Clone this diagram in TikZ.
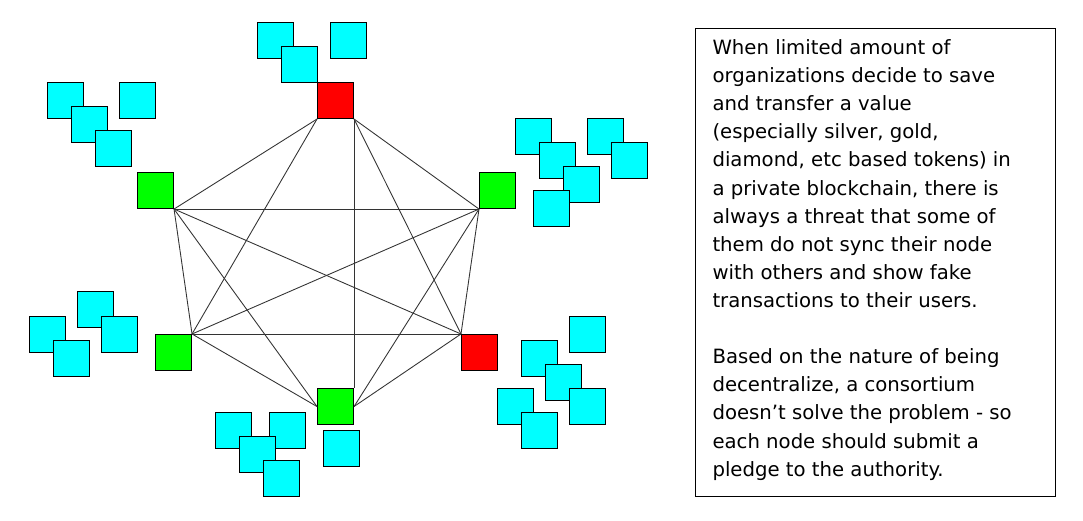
\documentclass[tikz,border=0pt]{standalone}
\usepackage{fontspec}
\setmainfont{DejaVu Sans}
\definecolor{usercyan}{RGB}{0,255,255}
\definecolor{nodegreen}{RGB}{0,255,0}
\begin{document}
\begin{tikzpicture}[x=0.02cm, y=-0.02cm, line width=0.6pt,
  sq/.style = {draw, rectangle, minimum size=0.72cm, inner sep=0pt, anchor=north west},
  peer/.style = {sq, fill=red},
  org/.style = {sq, fill=nodegreen},
  user/.style = {sq, fill=usercyan},
  link/.style = {line width=0.5pt, draw=black!80}]
	\useasboundingbox (0,0) rectangle (1083,521);
	% user squares
	\foreach \x/\y in {257/22, 330/22, 281/46,
	                   47/82, 119/82, 71/106, 95/130,
	                   515/118, 587/118, 539/142, 611/142, 563/166, 533/190,
	                   77/291, 29/316, 101/316, 53/340,
	                   569/316, 521/340, 545/364, 497/388, 569/388, 521/412,
	                   215/412, 269/412, 239/436, 263/460, 323/430}
		\node[user] at (\x,\y) {};
	
	% nodes of the network
	\node[peer] (top) at (317,82) {};
	\node[org] (left) at (137,172) {};
	\node[org] (right) at (479,172) {};
	\node[org] (lowleft) at (155,334) {};
	\node[peer] (lowright) at (461,334) {};
	\node[org] (bottom) at (317,388) {};
	
	\draw[link] (top.south west) -- (left.south east);
	\draw[link] (top.south west) -- (lowleft.north east);
	\draw[link] (top.south east) -- (right.south west);
	\draw[link] (top.south east) -- (lowright.north west);
	\draw[link] (top.south east) -- (bottom.north east);
	\draw[link] (left.south east) -- (right.south west);
	\draw[link] (left.south east) -- (lowleft.north east);
	\draw[link] (left.south east) -- (lowright.north west);
	\draw[link] (left.south east) -- (bottom.west);
	\draw[link] (right.south west) -- (lowleft.north east);
	\draw[link] (right.south west) -- (lowright.north west);
	\draw[link] (right.south west) -- (bottom.east);
	\draw[link] (lowleft.north east) -- (lowright.north west);
	\draw[link] (lowleft.north east) -- (bottom.west);
	\draw[link] (lowright.north west) -- (bottom.east);
	
	% explanation
	\node[draw, rectangle, anchor=north west, minimum width=7.2cm, minimum height=9.36cm] (box) at (695,28) {};
	\node[anchor=north west, align=left, inner sep=0pt, font=\fontsize{11.2}{16}\selectfont] (note) at (712,39)
	{When limited amount of\\organizations decide to save\\and transfer a value\\(especially silver, gold,\\diamond, etc based tokens) in\\a private blockchain, there is\\always a threat that some of\\them do not sync their node\\with others and show fake\\transactions to their users.\\[16pt]Based on the nature of being\\decentralize, a consortium\\doesn’t solve the problem - so\\each node should submit a\\pledge to the authority.};
\end{tikzpicture}
\end{document}
